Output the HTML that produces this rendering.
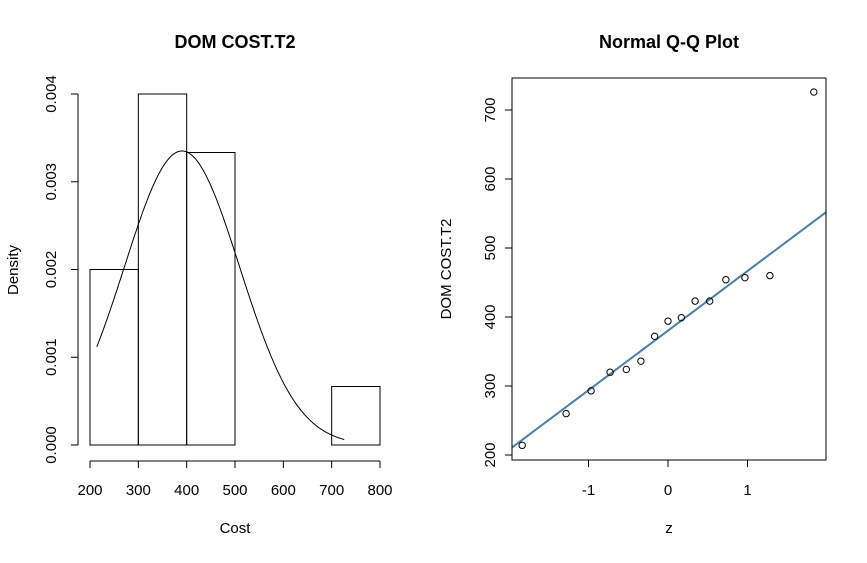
<!DOCTYPE html>
<html><head><meta charset="utf-8"><style>
body{margin:0;background:#fff;}
svg text{font-family:"Liberation Sans",Arial,sans-serif;font-size:15px;fill:#000;}
</style></head><body>
<svg id="c" width="867" height="558" xmlns="http://www.w3.org/2000/svg"></svg>
<script>
const costValues=[214,260,293,320,324,336,372,394,399,423,423,454,457,460,726];
const binEdges=[200,300,400,500,600,700,800];
const histXTicks=[200,300,400,500,600,700,800];
const histYTicks=[0,0.001,0.002,0.003,0.004];
const qqXTicks=[-1,0,1];
const qqYTicks=[200,300,400,500,600,700];
const svg=document.getElementById('c');
const NS='http://www.w3.org/2000/svg';
function mk(t,a,p){const e=document.createElementNS(NS,t);for(const k in a)e.setAttribute(k,a[k]);(p||svg).appendChild(e);return e;}
// Left: histogram
const hx=v=>90+(v-200)*(290/600);
const hy=v=>445-v*(351/0.004);
const n=costValues.length;
const gH=mk('g',{});


for(let i=0;i<binEdges.length-1;i++){
 const c=costValues.filter(v=>v>binEdges[i]&&v<=binEdges[i+1]||(i==0&&v==binEdges[0])).length;
 const d=c/(n*(binEdges[i+1]-binEdges[i]));
 const r=mk('rect',{x:hx(binEdges[i]),y:hy(d),width:hx(binEdges[i+1])-hx(binEdges[i]),height:hy(0)-hy(d),fill:'none',stroke:'#000','stroke-width':1},gH);
 
 
}
const mean=costValues.reduce((a,b)=>a+b,0)/n;
const sd=Math.sqrt(costValues.reduce((a,b)=>a+(b-mean)**2,0)/(n-1));
const mn=Math.min(...costValues),mx=Math.max(...costValues);
let pts=[];
for(let i=0;i<=200;i++){const x=mn+(mx-mn)*i/200;const d=Math.exp(-((x-mean)**2)/(2*sd*sd))/(sd*Math.sqrt(2*Math.PI));pts.push(hx(x).toFixed(1)+','+hy(d).toFixed(1));}
const curve=mk('polyline',{points:pts.join(' '),fill:'none',stroke:'#000','stroke-width':1},gH);


mk('line',{x1:hx(200),x2:hx(800),y1:461,y2:461,stroke:'#000'},gH);
histXTicks.forEach(t=>{mk('line',{x1:hx(t),x2:hx(t),y1:461,y2:468,stroke:'#000'},gH);const tx=mk('text',{x:hx(t),y:495,'text-anchor':'middle'},gH);tx.textContent=t;});
mk('line',{x1:78,x2:78,y1:hy(0),y2:hy(0.004),stroke:'#000'},gH);
histYTicks.forEach(t=>{mk('line',{x1:71,x2:78,y1:hy(t),y2:hy(t),stroke:'#000'},gH);const tx=mk('text',{x:56,y:hy(t),'text-anchor':'middle',transform:`rotate(-90 56 ${hy(t)})`},gH);tx.textContent=t.toFixed(3);});
let t1=mk('text',{x:235,y:48,'text-anchor':'middle','font-weight':'bold',style:'font-size:18px'});t1.textContent='DOM COST.T2';

let t2=mk('text',{x:235,y:533,'text-anchor':'middle'});t2.textContent='Cost';

let t3=mk('text',{x:18,y:270,'text-anchor':'middle',transform:'rotate(-90 18 270)'});t3.textContent='Density';

// Right: QQ
const qx=v=>668+v*79.5;
const qy=v=>455-(v-200)*(345/500);
function qnorm(p){// Acklam
 const a=[-39.6968302866538,220.946098424521,-275.928510446969,138.357751867269,-30.6647980661472,2.50662827745924],b=[-54.4760987982241,161.585836858041,-155.698979859887,66.8013118877197,-13.2806815528857],c=[-0.00778489400243029,-0.322396458041136,-2.40075827716184,-2.54973253934373,4.37466414146497,2.93816398269878],d=[0.00778469570904146,0.32246712907004,2.445134137143,3.75440866190742];
 if(p<0.02425){const q=Math.sqrt(-2*Math.log(p));return(((((c[0]*q+c[1])*q+c[2])*q+c[3])*q+c[4])*q+c[5])/((((d[0]*q+d[1])*q+d[2])*q+d[3])*q+1);}
 if(p>1-0.02425)return -qnorm(1-p);
 const q=p-0.5,r=q*q;return(((((a[0]*r+a[1])*r+a[2])*r+a[3])*r+a[4])*r+a[5])*q/(((((b[0]*r+b[1])*r+b[2])*r+b[3])*r+b[4])*r+1);}
const gQ=mk('g',{});


mk('defs',{},gQ).innerHTML='<clipPath id="cl"><rect x="512" y="78" width="314" height="382"/></clipPath>';
const sorted=[...costValues].sort((a,b)=>a-b);
const q=(p)=>{const h=(n-1)*p,l=Math.floor(h);return sorted[l]+(h-l)*(sorted[Math.min(l+1,n-1)]-sorted[l]);};
const y1=q(0.25),y2=q(0.75),x1=qnorm(0.25),x2=qnorm(0.75);
const sl=(y2-y1)/(x2-x1),ic=y1-sl*x1;
const ql=mk('line',{x1:qx(-3),y1:qy(ic-3*sl),x2:qx(3),y2:qy(ic+3*sl),stroke:'#4a7fa8','stroke-width':2,'clip-path':'url(#cl)'},gQ);

sorted.forEach((v,i)=>{const z=qnorm((i+1-0.5)/n);const p=mk('circle',{cx:qx(z),cy:qy(v),r:3.2,fill:'none',stroke:'#000','stroke-width':1},gQ);
 });
mk('rect',{x:512,y:78,width:314,height:382,fill:'none',stroke:'#000'},gQ);
qqXTicks.forEach(t=>{mk('line',{x1:qx(t),x2:qx(t),y1:460,y2:467,stroke:'#000'},gQ);const tx=mk('text',{x:qx(t),y:495,'text-anchor':'middle'},gQ);tx.textContent=t;});
qqYTicks.forEach(t=>{mk('line',{x1:505,x2:512,y1:qy(t),y2:qy(t),stroke:'#000'},gQ);const tx=mk('text',{x:495,y:qy(t),'text-anchor':'middle',transform:`rotate(-90 495 ${qy(t)})`},gQ);tx.textContent=t;});
let t4=mk('text',{x:669,y:48,'text-anchor':'middle','font-weight':'bold',style:'font-size:18px'});t4.textContent='Normal Q-Q Plot';

let t5=mk('text',{x:669,y:533,'text-anchor':'middle'});t5.textContent='z';

let t6=mk('text',{x:451,y:269,'text-anchor':'middle',transform:'rotate(-90 451 269)'});t6.textContent='DOM COST.T2';

</script>
</body></html>
